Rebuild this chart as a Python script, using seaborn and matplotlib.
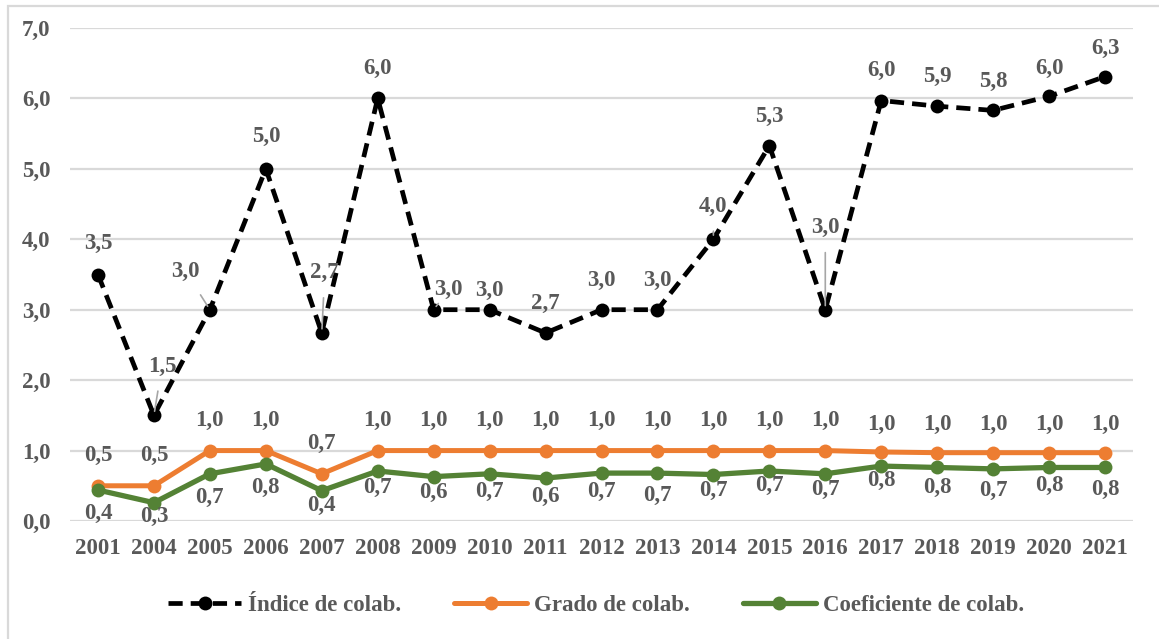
import numpy as np
import pandas as pd
import matplotlib
matplotlib.use("Agg")
import matplotlib.pyplot as plt
from matplotlib.patches import Rectangle
import seaborn as sns

# ---- data -----------------------------------------------------------------
years = ["2001", "2004", "2005", "2006", "2007", "2008", "2009", "2010", "2011",
         "2012", "2013", "2014", "2015", "2016", "2017", "2018", "2019", "2020", "2021"]
indice = [3.5, 1.5, 3.0, 5.0, 2.67, 6.0, 3.0, 3.0, 2.67,
          3.0, 3.0, 4.0, 5.33, 3.0, 5.97, 5.89, 5.83, 6.03, 6.31]
grado = [0.5, 0.5, 1.0, 1.0, 0.67, 1.0, 1.0, 1.0, 1.0,
         1.0, 1.0, 1.0, 1.0, 1.0, 0.98, 0.97, 0.97, 0.97, 0.97]
coef = [0.44, 0.26, 0.67, 0.81, 0.43, 0.71, 0.63, 0.67, 0.61,
        0.68, 0.68, 0.66, 0.71, 0.67, 0.78, 0.76, 0.74, 0.76, 0.76]
series_names = ["Índice de colab.", "Grado de colab.", "Coeficiente de colab."]
y_ticks = [0, 1, 2, 3, 4, 5, 6, 7]

# ---- label placement (pixel offsets from each point; leader flag) ----------
indice_off = [(0, 31), (8, 49), (-24, 38), (0, 32), (3, 60), (0, 30), (15, 20),
              (0, 19), (0, 29), (0, 29), (0, 29), (0, 33), (0, 29), (0, 82),
              (0, 30), (0, 30), (0, 29), (0, 28), (0, 28)]
indice_leader = [False, True, True, False, True, False, True, False, False, False,
                 False, True, False, True, False, False, False, False, False]
grado_off = [(0, 30)] * 14 + [(0, 28)] * 5
coef_off = [(0, -23), (0, -14), (0, -24), (0, -24), (0, -15), (0, -16), (0, -16),
            (0, -18), (0, -18), (0, -18), (0, -22), (0, -16), (0, -14), (0, -16),
            (0, -14), (0, -20), (0, -22), (0, -18), (0, -22)]

# ---- style ----------------------------------------------------------------
sns.set_theme(style="white")
plt.rcParams["font.family"] = ["Liberation Serif", "DejaVu Serif"]
plt.rcParams["font.weight"] = "bold"

TEXT = "#595959"
GRID = "#d9d9d9"
ORANGE = "#ed7d31"
GREEN = "#548235"
FS = 16.5

W, H = 1159, 639
fig = plt.figure(figsize=(W / 100, H / 100), dpi=100)
ax = fig.add_axes([70 / W, 1 - 521 / H, (1133 - 70) / W, (521 - 28) / H])

df = pd.DataFrame({"year": years, "indice": indice, "grado": grado, "coef": coef})

sns.lineplot(data=df, x="year", y="indice", ax=ax, color="black", lw=3.4,
             marker="o", markersize=10, markeredgewidth=0, sort=False,
             label=series_names[0])
sns.lineplot(data=df, x="year", y="grado", ax=ax, color=ORANGE, lw=3.6,
             marker="o", markersize=10, markeredgewidth=0, sort=False,
             label=series_names[1])
sns.lineplot(data=df, x="year", y="coef", ax=ax, color=GREEN, lw=3.8,
             marker="o", markersize=10, markeredgewidth=0, sort=False,
             label=series_names[2])
ax.lines[0].set_dashes((3.0, 1.7))
ax.lines[0].set_dash_capstyle("butt")

ax.set_xlim(-0.5, len(years) - 0.5)
ax.set_ylim(0, 7)
ax.set_yticks(y_ticks)
ax.set_yticklabels([f"{v:.1f}".replace(".", ",") for v in y_ticks])
ax.set_xlabel("")
ax.set_ylabel("")
ax.grid(axis="y", color=GRID, lw=1.6)
ax.grid(axis="x", visible=False)
ax.set_axisbelow(True)
for s in ax.spines.values():
    s.set_visible(False)
ax.tick_params(axis="both", length=0, labelsize=FS, labelcolor=TEXT)
ax.tick_params(axis="y", pad=14)
ax.tick_params(axis="x", pad=12.5)
for t in ax.get_xticklabels() + ax.get_yticklabels():
    t.set_fontweight("bold")


def fmt(v):
    return f"{v:.1f}".replace(".", ",")


def put_labels(values, offsets, leaders=None):
    for i, (yr, v) in enumerate(zip(years, values)):
        dx, dy = offsets[i]
        lead = leaders[i] if leaders else False
        kw = {}
        if lead:
            kw["arrowprops"] = dict(arrowstyle="-", color="#a6a6a6", lw=1.2,
                                    shrinkA=8, shrinkB=3)
        ax.annotate(fmt(v), (i, v), xytext=(dx, dy), textcoords="offset pixels",
                    ha="center", va="center", fontsize=FS, fontweight="bold",
                    color=TEXT, annotation_clip=False, **kw)


put_labels(indice, indice_off, indice_leader)
put_labels(grado, grado_off)
put_labels(coef, coef_off)

ax.get_legend().remove()
handles, labels = ax.get_legend_handles_labels()
fig.legend(handles, labels, loc="center", bbox_to_anchor=(596 / W, 1 - 605 / H),
           ncol=3, frameon=False, labelcolor=TEXT,
           handlelength=3.2, handletextpad=0.3, columnspacing=2.3,
           prop={"weight": "bold", "size": FS})

# outer chart border
fig.patches.append(Rectangle((8 / W, -0.05), 1.1, 1 - 6 / H + 0.05,
                             transform=fig.transFigure, fill=False,
                             edgecolor=GRID, lw=1.6))

fig.savefig("out.png", dpi=100)
